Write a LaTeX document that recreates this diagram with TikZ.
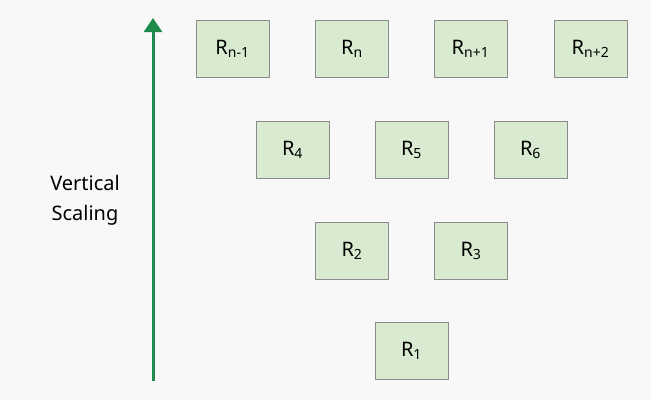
\documentclass[tikz,border=0pt]{standalone}
\usepackage{fontspec}
\setmainfont{Noto Sans}
\usetikzlibrary{arrows.meta}
\definecolor{bg}{HTML}{F8F8F8}
\definecolor{boxfill}{HTML}{D8EBD0}
\definecolor{boxdraw}{HTML}{8A8A8A}
\definecolor{arr}{HTML}{1E8A4C}
\begin{document}
\begin{tikzpicture}[x=1pt,y=-1pt,
  box/.style={draw=boxdraw,fill=boxfill,line width=0.8pt,minimum width=73pt,minimum height=57pt,inner sep=0pt,font=\fontsize{20}{22}\selectfont\bfseries}]
\fill[bg] (0,0) rectangle (651,400);
\useasboundingbox (0,0) rectangle (651,400);
\node[box] (a) at (232.5,48.5) {R\textsubscript{n-1}};
\node[box] (b) at (352,48.5) {R\textsubscript{n}};
\node[box] (c) at (470.5,48.5) {R\textsubscript{n+1}};
\node[box] (d) at (590.5,48.5) {R\textsubscript{n+2}};
\node[box] (r4) at (292.5,149.5) {R\textsubscript{4}};
\node[box] (r5) at (411.5,149.5) {R\textsubscript{5}};
\node[box] (r6) at (530.5,149.5) {R\textsubscript{6}};
\node[box] (r2) at (352,250.5) {R\textsubscript{2}};
\node[box] (r3) at (471,250.5) {R\textsubscript{3}};
\node[box] (r1) at (411.5,351) {R\textsubscript{1}};
\coordinate (s) at (153,381);
\coordinate (e) at (153,18);
\draw[arr,line width=3pt,-{Triangle[length=14pt,width=18pt]}] (s) -- (e);
\node[font=\fontsize{20}{30}\selectfont\bfseries,align=center] (t) at (85,200) {Vertical\\Scaling};
\end{tikzpicture}
\end{document}
